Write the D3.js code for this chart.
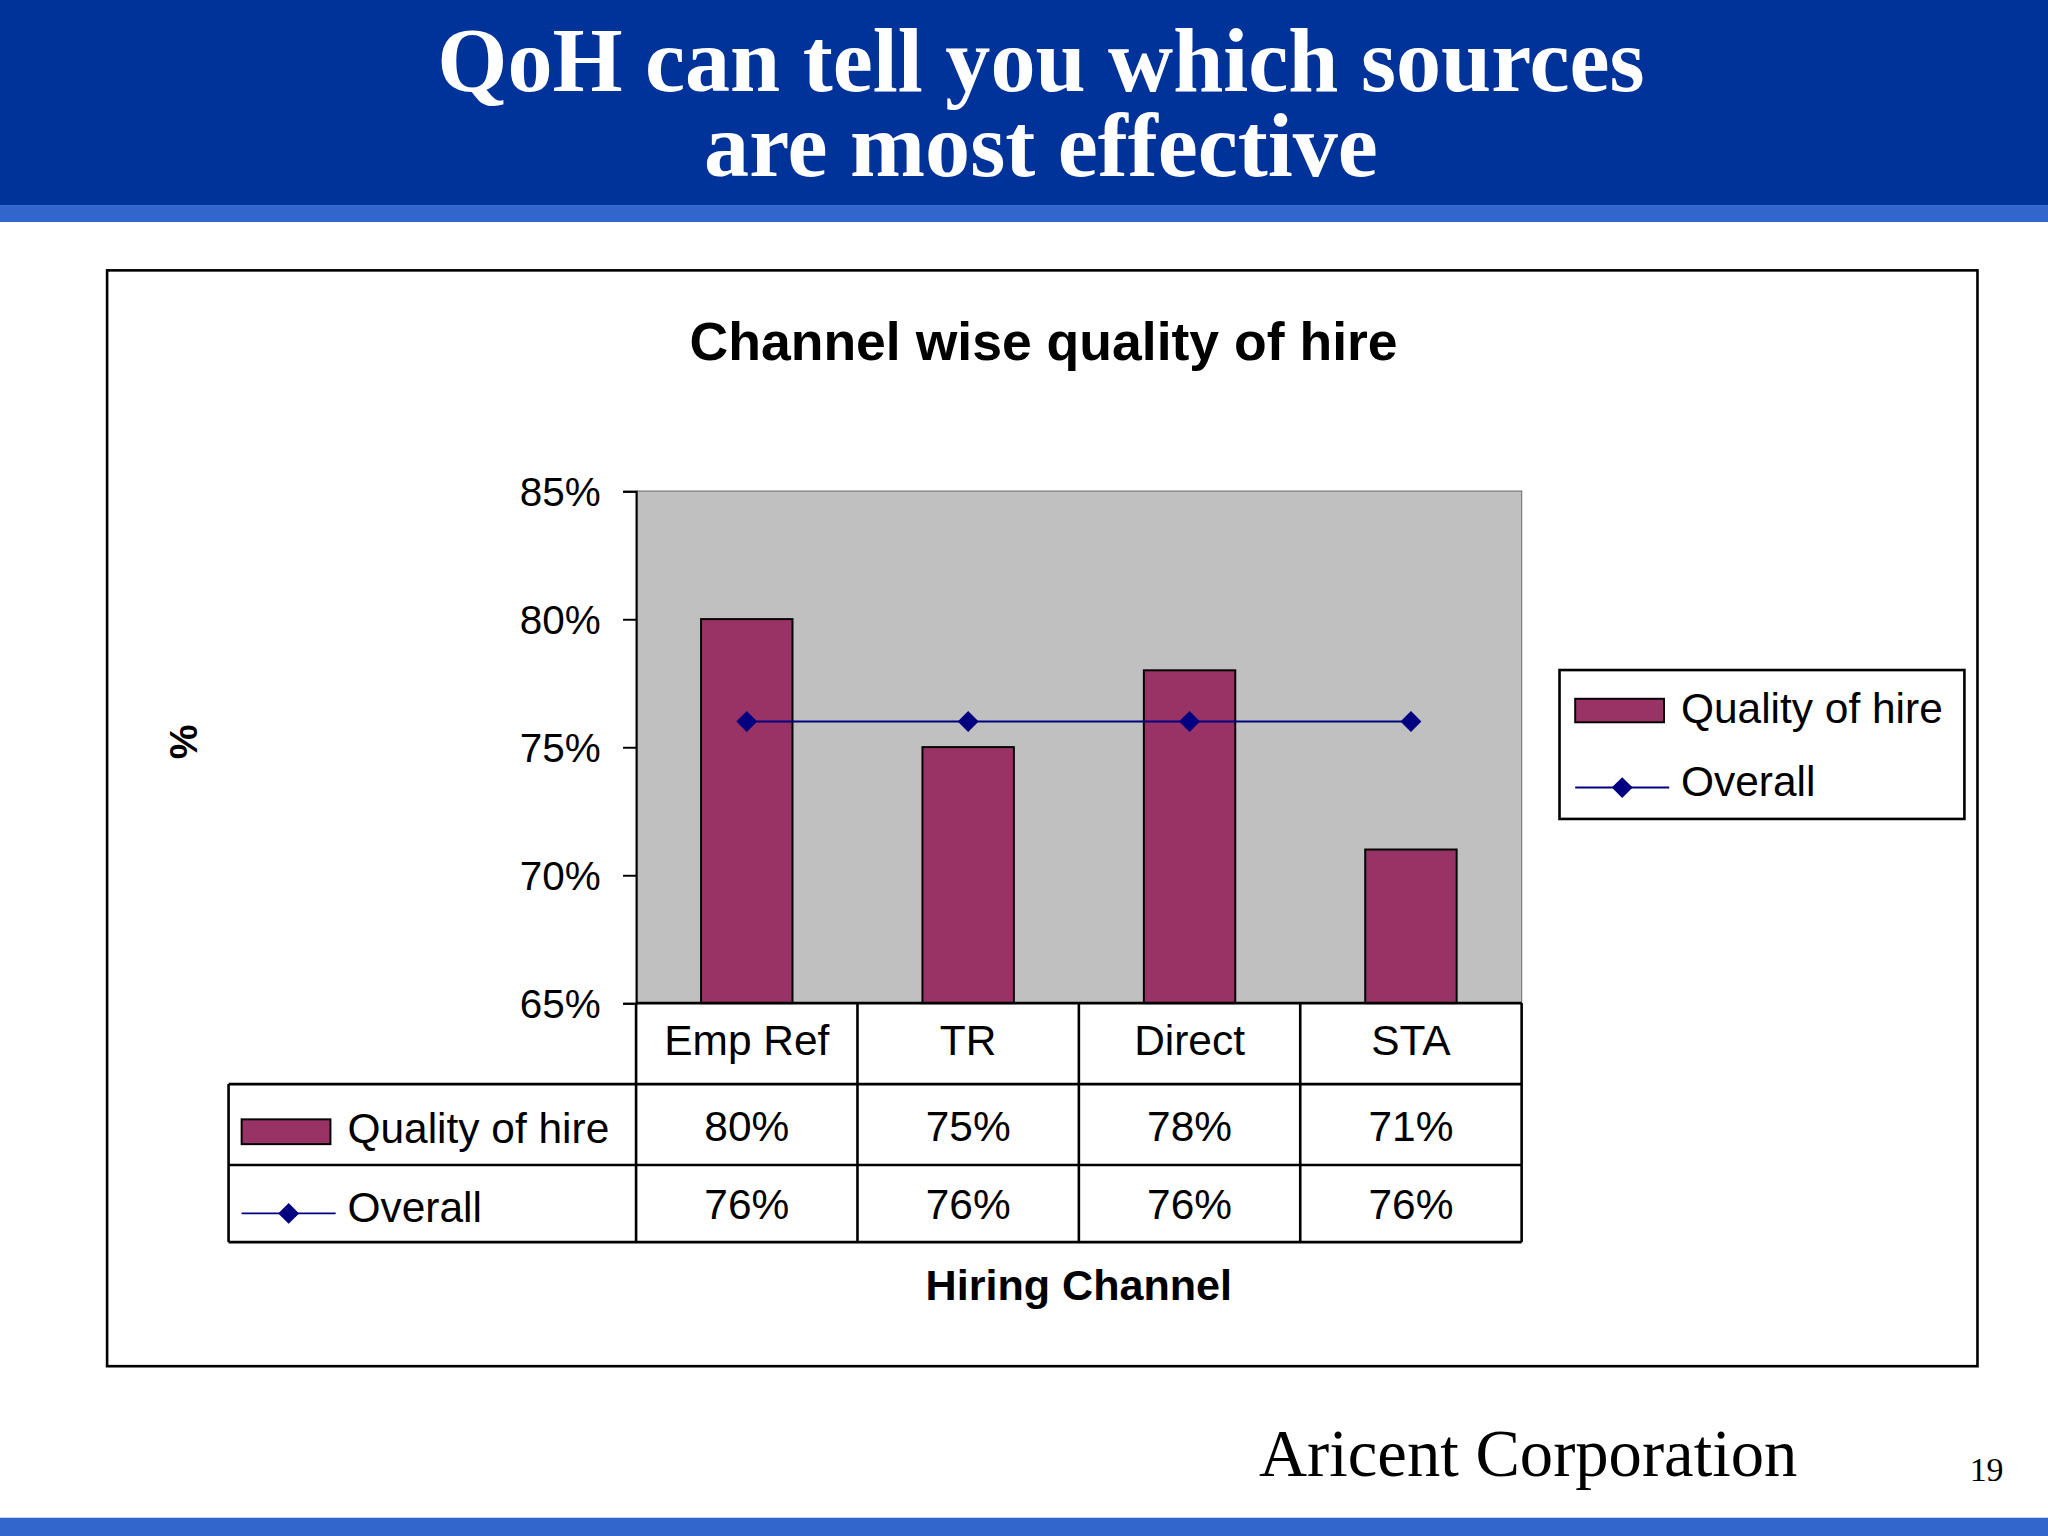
<!DOCTYPE html>
<html><head><meta charset="utf-8">
<script src="https://cdn.jsdelivr.net/npm/d3@7"></script>
<style>body{margin:0;background:#fff}svg{display:block}</style></head>
<body><svg id="c" width="2048" height="1536" viewBox="0 0 1568 1176"></svg>
<script>
const categories = ["Emp Ref","TR","Direct","STA"];
const quality = [80,75,78,71];
const overall = [76,76,76,76];
const yTicks = [65,70,75,80,85];
const seriesNames = ["Quality of hire","Overall"];

const svg = d3.select("#c");
const sans = "Liberation Sans, Arial, sans-serif", serif = "Liberation Serif, Times New Roman, serif";
const barC = "#993366", lineC = "#000080";

svg.append("rect").attr("x",0).attr("y",0).attr("width",1568).attr("height",157).attr("fill","#003399");
svg.append("rect").attr("x",0).attr("y",157).attr("width",1568).attr("height",13).attr("fill","#3366cc");
svg.append("rect").attr("x",0).attr("y",1162).attr("width",1568).attr("height",14).attr("fill","#3366cc");
[["QoH can tell you which sources",70],["are most effective",135]].forEach(([t,y])=>
  svg.append("text").attr("x",797).attr("y",y).attr("text-anchor","middle").attr("fill","#fff")
   .attr("font-family",serif).attr("font-weight","bold").attr("font-size",69).text(t));
svg.append("text").attr("x",1170).attr("y",1130).attr("text-anchor","middle").attr("font-family",serif).attr("font-size",51).text("Aricent Corporation");
svg.append("text").attr("x",1521).attr("y",1134).attr("text-anchor","middle").attr("font-family",serif).attr("font-size",26).text("19");

svg.append("rect").attr("x",82).attr("y",207).attr("width",1432).attr("height",839).attr("fill","#fff").attr("stroke","#000").attr("stroke-width",2);
svg.append("text").attr("x",799).attr("y",276).attr("text-anchor","middle").attr("font-family",sans).attr("font-weight","bold").attr("font-size",41).text("Channel wise quality of hire");

const x = d3.scaleBand().domain(categories).range([487,1165]);
const y = d3.scaleLinear().domain([65,85]).range([768,376]);
svg.append("rect").attr("x",487).attr("y",376).attr("width",678).attr("height",392).attr("fill","#c0c0c0").attr("stroke","#808080");
const ya = svg.append("g").attr("transform","translate(487,0)")
  .call(d3.axisLeft(y).tickValues(yTicks).tickSize(10).tickFormat(d=>d+"%"));
ya.select(".domain").attr("stroke","#000").attr("stroke-width",1.5);
ya.selectAll("line").attr("stroke","#000").attr("stroke-width",1.5);
ya.selectAll("text").attr("font-family",sans).attr("font-size",31).attr("x",-27).attr("dy","0.35em").attr("fill","#000");
svg.append("text").attr("transform","translate(140,568) rotate(-90)").attr("text-anchor","middle").attr("dy","0.35em").attr("font-family",sans).attr("font-weight","bold").attr("font-size",30).text("%");

const bw = 70;
svg.selectAll(".bar").data(quality).join("rect").attr("x",(d,i)=>x(categories[i])+x.bandwidth()/2-bw/2)
  .attr("y",d=>y(d)).attr("width",bw).attr("height",d=>y(65)-y(d)).attr("fill",barC).attr("stroke","#000").attr("stroke-width",1.5);
const line = d3.line().x((d,i)=>x(categories[i])+x.bandwidth()/2).y(d=>y(d));
svg.append("path").datum(overall).attr("d",line).attr("fill","none").attr("stroke",lineC).attr("stroke-width",1.5);
const diamond = "M0,-8L8,0L0,8L-8,0Z";
svg.selectAll(".pt").data(overall).join("path").attr("d",diamond)
  .attr("transform",(d,i)=>`translate(${x(categories[i])+x.bandwidth()/2},${y(d)})`).attr("fill",lineC);

const g=svg.append("g").attr("stroke","#000").attr("stroke-width",2).attr("fill","none");
g.append("line").attr("x1",487).attr("x2",1165).attr("y1",768).attr("y2",768);
[830,892,951].forEach(yy=>g.append("line").attr("x1",175).attr("x2",1165).attr("y1",yy).attr("y2",yy));
g.append("line").attr("x1",175).attr("x2",175).attr("y1",830).attr("y2",951);
[487,...categories.map(c=>x(c)+x.bandwidth())].forEach(xx=>g.append("line").attr("x1",xx).attr("x2",xx).attr("y1",768).attr("y2",951));
const txt=(t,xx,yy,anchor="middle")=>svg.append("text").attr("x",xx).attr("y",yy).attr("text-anchor",anchor).attr("dy","0.35em").attr("font-family",sans).attr("font-size",32.5).text(t);
categories.forEach((c,i)=>{const cx=x(c)+x.bandwidth()/2;
  txt(c,cx,796); txt(quality[i]+"%",cx,862); txt(overall[i]+"%",cx,922);});
svg.append("rect").attr("x",185).attr("y",857).attr("width",68).attr("height",19).attr("fill",barC).attr("stroke","#000").attr("stroke-width",1.5);
txt(seriesNames[0],266,864,"start");
svg.append("line").attr("x1",185).attr("x2",257).attr("y1",929).attr("y2",929).attr("stroke",lineC).attr("stroke-width",1.5);
svg.append("path").attr("d",diamond).attr("transform","translate(221,929)").attr("fill",lineC);
txt(seriesNames[1],266,924,"start");
svg.append("text").attr("x",826).attr("y",995).attr("text-anchor","middle").attr("font-family",sans).attr("font-weight","bold").attr("font-size",33).text("Hiring Channel");

svg.append("rect").attr("x",1194).attr("y",513).attr("width",310).attr("height",114).attr("fill","#fff").attr("stroke","#000").attr("stroke-width",2);
svg.append("rect").attr("x",1206).attr("y",535).attr("width",68).attr("height",18).attr("fill",barC).attr("stroke","#000").attr("stroke-width",1.5);
txt(seriesNames[0],1287,542,"start");
svg.append("line").attr("x1",1206).attr("x2",1278).attr("y1",603).attr("y2",603).attr("stroke",lineC).attr("stroke-width",1.5);
svg.append("path").attr("d",diamond).attr("transform","translate(1242,603)").attr("fill",lineC);
txt(seriesNames[1],1287,598,"start");
</script></body></html>
